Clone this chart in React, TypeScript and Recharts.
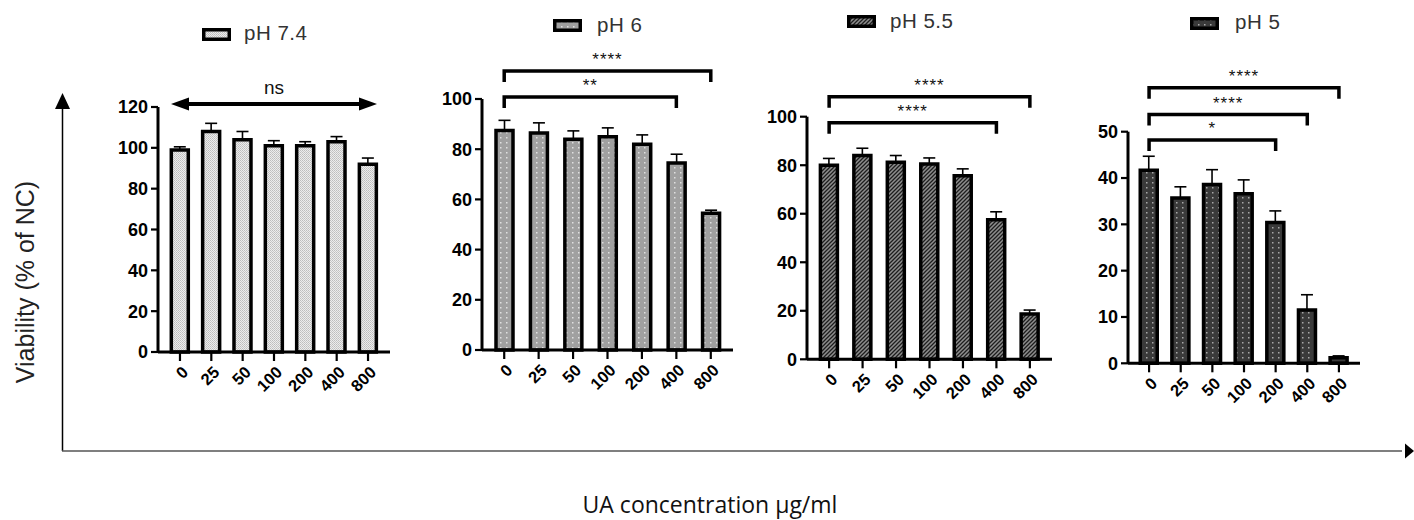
import React from 'react';
import { BarChart, Bar, XAxis, YAxis, ErrorBar, ReferenceLine } from 'recharts';

// concentrations (µg/ml)
const concentrations = ['0', '25', '50', '100', '200', '400', '800'];

// viability means and SEM per pH
const ph74Mean = [99, 108, 104, 101, 101, 103, 92];
const ph74Err = [1.5, 4, 4, 2.5, 2, 2.5, 3];
const ph6Mean = [87.5, 86.5, 84, 85, 82, 74.5, 54.5];
const ph6Err = [4, 4, 3.3, 3.5, 3.7, 3.5, 1.2];
const ph55Mean = [80, 84, 81.2, 80.5, 75.7, 57.5, 18.7];
const ph55Err = [2.8, 3, 2.8, 2.5, 2.8, 3.3, 1.6];
const ph5Mean = [41.7, 35.7, 38.6, 36.6, 30.4, 11.5, 1.2];
const ph5Err = [3, 2.4, 3.2, 3, 2.5, 3.3, 0.4];

// y tick labels
const ticks74 = [0, 20, 40, 60, 80, 100, 120];
const ticks6 = [0, 20, 40, 60, 80, 100];
const ticks55 = [0, 20, 40, 60, 80, 100];
const ticks5 = [0, 10, 20, 30, 40, 50];

// significance brackets: [from, to, level, label]
const sig74: [string, string, number, string][] = [['0', '800', 121.5, 'ns']];
const sig6: [string, string, number, string][] = [
  ['0', '800', 111.2, '****'],
  ['0', '400', 100.8, '**'],
];
const sig55: [string, string, number, string][] = [
  ['0', '800', 108.2, '****'],
  ['0', '400', 97.5, '****'],
];
const sig5: [string, string, number, string][] = [
  ['0', '800', 59.5, '****'],
  ['0', '400', 53.7, '****'],
  ['0', '200', 48.2, '*'],
];

const legendNames = ['pH 7.4', 'pH 6', 'pH 5.5', 'pH 5'];

const toRows = (mean: number[], err: number[]) =>
  concentrations.map((c, i) => ({ c, v: mean[i], e: [0, err[i]] }));

const panels = [
  { name: legendNames[0], rows: toRows(ph74Mean, ph74Err), ticks: ticks74, sig: sig74, fill: 'url(#pat74)',
    axisX: 158, top: 107, bottom: 352, right: 390, pad: 6.3,
    legend: { x: 202, y: 28, tx: 244, ty: 33 } },
  { name: legendNames[1], rows: toRows(ph6Mean, ph6Err), ticks: ticks6, sig: sig6, fill: 'url(#pat6)',
    axisX: 482, top: 99, bottom: 350, right: 733, pad: 5,
    legend: { x: 553, y: 19, tx: 597, ty: 25 } },
  { name: legendNames[2], rows: toRows(ph55Mean, ph55Err), ticks: ticks55, sig: sig55, fill: 'url(#pat55)',
    axisX: 807, top: 116.7, bottom: 359.3, right: 1052, pad: 5.4,
    legend: { x: 847, y: 15, tx: 890, ty: 21 } },
  { name: legendNames[3], rows: toRows(ph5Mean, ph5Err), ticks: ticks5, sig: sig5, fill: 'url(#pat5)',
    axisX: 1128, top: 131.7, bottom: 363.3, right: 1360, pad: 5.25,
    legend: { x: 1190, y: 17, tx: 1235, ty: 22 } },
];

const FONT = '"Liberation Sans", Arial, sans-serif';
const Y_W = 50;
const X_H = 70;

const Bracket = (props: any) => {
  const { x1, y1, x2 } = props;
  return (
    <path d={`M${x1},${y1 + 11} L${x1},${y1} L${x2},${y1} L${x2},${y1 + 11}`}
      stroke="#000" strokeWidth={3.5} fill="none" />
  );
};

const DoubleArrow = (props: any) => {
  const { x1, y1, x2 } = props;
  const a = x1 - 9;
  const b = x2 + 9;
  return (
    <g>
      <line x1={a + 14} y1={y1} x2={b - 14} y2={y1} stroke="#000" strokeWidth={4} />
      <path d={`M${a},${y1} L${a + 18},${y1 - 6.5} L${a + 18},${y1 + 6.5} Z`} fill="#000" />
      <path d={`M${b},${y1} L${b - 18},${y1 - 6.5} L${b - 18},${y1 + 6.5} Z`} fill="#000" />
    </g>
  );
};

const XTick = (props: any) => {
  const { x, y, payload } = props;
  const px = x + 5;
  const py = y + 6;
  return (
    <text x={px} y={py} transform={`rotate(-45, ${px}, ${py})`} textAnchor="end" dominantBaseline="central"
      fontFamily={FONT} fontWeight="bold" fontSize={16.5} fill="#000">
      {payload.value}
    </text>
  );
};

const Panel = ({ p }: { p: typeof panels[number] }) => {
  const width = Y_W + (p.right - p.axisX) + 10;
  const height = p.bottom + X_H;
  const max = p.ticks[p.ticks.length - 1];
  return (
    <div style={{ position: 'absolute', left: p.axisX - Y_W, top: 0 }}>
      <BarChart width={width} height={height} data={p.rows}
        margin={{ top: p.top, right: 10, left: 0, bottom: 0 }} barCategoryGap={0}>
        <XAxis dataKey="c" interval={0} padding={{ left: p.pad, right: p.pad }} height={X_H}
          tickSize={9} tickMargin={2} tick={<XTick />}
          axisLine={{ stroke: '#000', strokeWidth: 3 }} tickLine={{ stroke: '#000', strokeWidth: 2.2 }} />
        <YAxis width={Y_W} domain={[0, max]} ticks={p.ticks} interval={0} tickSize={7} tickMargin={3}
          tick={{ fill: '#000', fontSize: 18, fontWeight: 'bold', fontFamily: FONT }}
          axisLine={{ stroke: '#000', strokeWidth: 3 }} tickLine={{ stroke: '#000', strokeWidth: 2.2 }} />
        <Bar dataKey="v" fill={p.fill} stroke="#000" strokeWidth={3.5} barSize={17} isAnimationActive={false}>
          <ErrorBar dataKey="e" direction="y" width={6} stroke="#000" strokeWidth={1.6} />
        </Bar>
        {p.sig.map(([from, to, level, label], i) => (
          <ReferenceLine key={i} ifOverflow="visible"
            segment={[{ x: from, y: level }, { x: to, y: level }]}
            shape={label === 'ns' ? <DoubleArrow /> : <Bracket />}
            label={label === 'ns'
              ? { value: label, position: 'top', offset: 10, fontSize: 19, fill: '#111', fontFamily: FONT }
              : { value: label, position: 'top', offset: 6, fontSize: 17, fill: '#111', fontFamily: FONT, letterSpacing: 1 }} />
        ))}
      </BarChart>
    </div>
  );
};

const LegendItem = ({ p }: { p: typeof panels[number] }) => (
  <>
    <svg style={{ position: 'absolute', left: p.legend.x, top: p.legend.y }} width={29} height={13}>
      <rect x={1.75} y={1.75} width={25.5} height={9.5} fill={p.fill} stroke="#000" strokeWidth={3.5} />
    </svg>
    <div style={{ position: 'absolute', left: p.legend.tx, top: p.legend.ty - 12, fontSize: 20.5,
      lineHeight: '24px', fontFamily: FONT, color: '#333', whiteSpace: 'nowrap', letterSpacing: 0.5 }}>{p.name}</div>
  </>
);

export default function App() {
  return (
    <div style={{ position: 'absolute', left: 0, top: 0, width: 1414, height: 520, background: '#fff', overflow: 'hidden' }}>
      <svg width={0} height={0} style={{ position: 'absolute' }}>
        <defs>
          <pattern id="pat74" width={2} height={2} patternUnits="userSpaceOnUse">
            <rect width={2} height={2} fill="#ececec" />
            <rect x={0} y={0} width={1} height={1} fill="#bdbdbd" />
            <rect x={1} y={1} width={1} height={1} fill="#c8c8c8" />
          </pattern>
          <pattern id="pat6" width={6} height={5} patternUnits="userSpaceOnUse">
            <rect width={6} height={5} fill="#a0a0a0" />
            <rect x={2} y={2} width={1.5} height={1.5} fill="#e0e0e0" />
          </pattern>
          <pattern id="pat55" width={4} height={4} patternUnits="userSpaceOnUse">
            <rect width={4} height={4} fill="#8e8e8e" />
            <path d="M-1,5 L5,-1 M-1,1 L1,-1 M3,5 L5,3" stroke="#1e1e1e" strokeWidth={1.3} />
          </pattern>
          <pattern id="pat5" width={6} height={5} patternUnits="userSpaceOnUse">
            <rect width={6} height={5} fill="#3a3a3a" />
            <rect x={2} y={2} width={1.5} height={1.5} fill="#a8a8a8" />
          </pattern>
        </defs>
      </svg>

      <svg style={{ position: 'absolute', left: 0, top: 0 }} width={1414} height={520}>
        <line x1={62.5} y1={451} x2={62.5} y2={105} stroke="#000" strokeWidth={1.5} />
        <path d="M62.5,93 L55,109 L70,109 Z" fill="#000" />
        <line x1={62} y1={451} x2={1402} y2={451} stroke="#555" strokeWidth={1.5} />
        <path d="M1414,451 L1405,443.5 L1405,458.5 Z" fill="#000" />
        <text x={25} y={282} transform="rotate(-90, 25, 282)" textAnchor="middle" dominantBaseline="central"
          fontFamily={FONT} fontSize={25} fill="#222">Viability (% of NC)</text>
        <text x={710} y={504} textAnchor="middle" dominantBaseline="central"
          fontFamily='"Open Sans", sans-serif' fontSize={23} fill="#111">UA concentration µg/ml</text>
      </svg>

      {panels.map((p, i) => <Panel key={i} p={p} />)}
      {panels.map((p, i) => <LegendItem key={`l${i}`} p={p} />)}
    </div>
  );
}
